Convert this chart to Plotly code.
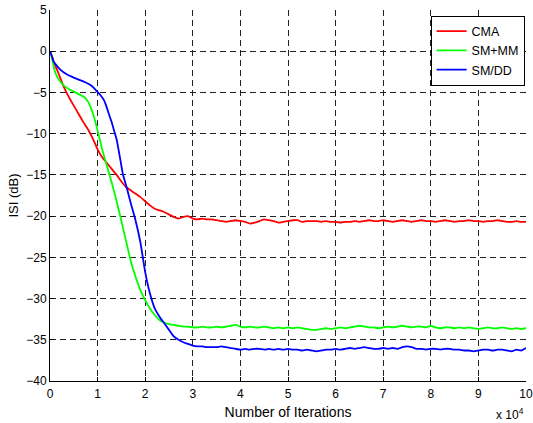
import plotly.graph_objects as go

# x in units of 10^4 iterations
cma_x = [0, 0.04, 0.1, 0.18, 0.28, 0.4, 0.56, 0.7, 0.8, 0.9, 1.0, 1.1, 1.2, 1.3, 1.4, 1.5, 1.6, 1.7,
         1.8, 1.9, 2.0, 2.1, 2.2, 2.3, 2.4, 2.5, 2.6, 2.7, 2.8, 2.9, 3.0]
cma_y = [0, -0.6, -1.6, -2.7, -4.2, -5.6, -7.2, -8.6, -9.5, -10.6, -11.9, -12.9, -13.6, -14.3, -15.0,
         -15.8, -16.5, -16.9, -17.3, -17.7, -18.2, -18.7, -19.1, -19.3, -19.5, -19.8, -20.1, -20.3,
         -20.1, -20.0, -20.3]
cma_tail = [-20.4, -20.3, -20.4, -20.4, -20.5, -20.6, -20.7, -20.6, -20.5, -20.6,
            -20.7, -20.9, -20.8, -20.6, -20.4, -20.5, -20.6, -20.8, -20.7, -20.6,
            -20.5, -20.5, -20.7, -20.6, -20.6, -20.6, -20.7, -20.6, -20.7, -20.7,
            -20.8, -20.7, -20.7, -20.6, -20.7, -20.6, -20.5, -20.6, -20.6, -20.5,
            -20.6, -20.7, -20.6, -20.5, -20.6, -20.7, -20.6, -20.5, -20.6, -20.6,
            -20.7, -20.6, -20.5, -20.6, -20.7, -20.6, -20.6, -20.5, -20.6, -20.6,
            -20.7, -20.6, -20.6, -20.5, -20.6, -20.7, -20.7, -20.6, -20.7, -20.7]

smmm_x = [0, 0.04, 0.1, 0.16, 0.22, 0.3, 0.4, 0.5, 0.6, 0.7, 0.76, 0.81, 0.86, 0.92, 1.0, 1.1, 1.2,
          1.3, 1.4, 1.5, 1.6, 1.7, 1.8, 1.9, 2.0, 2.1, 2.2, 2.3, 2.4, 2.5, 2.6, 2.7, 2.8, 2.9, 3.0]
smmm_y = [0, -0.8, -2.4, -3.2, -3.7, -4.2, -4.6, -4.9, -5.2, -5.5, -5.8, -6.2, -6.9, -7.9, -9.6,
          -12.0, -14.0, -16.0, -18.2, -20.6, -23.1, -25.5, -27.4, -29.0, -30.2, -31.2, -32.0,
          -32.6, -32.9, -33.1, -33.2, -33.3, -33.4, -33.4, -33.5]
smmm_tail = [-33.5, -33.4, -33.5, -33.5, -33.4, -33.5, -33.4, -33.3, -33.2, -33.4,
             -33.5, -33.4, -33.5, -33.5, -33.4, -33.5, -33.6, -33.5, -33.6, -33.5,
             -33.6, -33.5, -33.6, -33.7, -33.8, -33.8, -33.7, -33.6, -33.7, -33.6,
             -33.5, -33.6, -33.5, -33.4, -33.3, -33.4, -33.5, -33.5, -33.6, -33.5,
             -33.4, -33.5, -33.4, -33.3, -33.4, -33.5, -33.4, -33.4, -33.5, -33.3,
             -33.5, -33.6, -33.5, -33.5, -33.6, -33.5, -33.6, -33.5, -33.6, -33.7,
             -33.6, -33.5, -33.6, -33.6, -33.5, -33.6, -33.7, -33.6, -33.7, -33.6]

smdd_x = [0, 0.04, 0.07, 0.12, 0.21, 0.35, 0.5, 0.63, 0.75, 0.85, 0.93, 1.0, 1.07, 1.13, 1.18, 1.23,
          1.29, 1.34, 1.4, 1.47, 1.53, 1.6, 1.7, 1.8, 1.9, 2.0, 2.1, 2.2, 2.3, 2.4, 2.5, 2.6, 2.7,
          2.8, 2.9, 3.0]
smdd_y = [0, -0.6, -1.2, -1.6, -2.2, -2.8, -3.2, -3.5, -3.8, -4.1, -4.5, -4.95, -5.4, -5.9, -6.6,
          -7.5, -8.5, -9.5, -10.7, -12.9, -14.9, -16.3, -18.5, -20.6, -23.2, -26.8, -29.4, -31.2,
          -32.2, -33.0, -33.8, -34.6, -35.0, -35.3, -35.5, -35.7]
smdd_tail = [-35.8, -35.8, -35.9, -35.9, -35.9, -35.8, -35.9, -36.0, -36.1, -36.2,
             -36.1, -36.2, -36.1, -36.1, -36.2, -36.1, -36.2, -36.1, -36.2, -36.1,
             -36.2, -36.2, -36.3, -36.2, -36.3, -36.4, -36.3, -36.2, -36.2, -36.1,
             -36.2, -36.1, -36.0, -36.1, -36.0, -35.9, -36.0, -36.1, -36.1, -36.0,
             -36.1, -36.0, -36.1, -35.9, -35.8, -35.9, -36.1, -36.1, -36.2, -36.1,
             -36.1, -36.2, -36.1, -36.1, -36.2, -36.2, -36.3, -36.3, -36.4, -36.3,
             -36.2, -36.2, -36.3, -36.2, -36.2, -36.3, -36.4, -36.2, -36.3, -36.0]

tail_x = [round(3.1 + 0.1 * i, 2) for i in range(70)]

x_ticks = list(range(0, 11))
y_ticks = list(range(-40, 6, 5))

series = [
    ("CMA", cma_x + tail_x, cma_y + cma_tail, "#ff0000"),
    ("SM+MM", smmm_x + tail_x, smmm_y + smmm_tail, "#00ff00"),
    ("SM/DD", smdd_x + tail_x, smdd_y + smdd_tail, "#0000ff"),
]

fig = go.Figure()
for name, xs, ys, col in series:
    fig.add_trace(go.Scatter(x=xs, y=ys, mode="lines", name=name,
                             line=dict(color=col, width=1.8, shape="spline", smoothing=0.4)))

axis_common = dict(
    showgrid=True, gridcolor="#222222", gridwidth=1, griddash="6px,4px",
    zeroline=False, showline=True, linecolor="black", linewidth=1,
    ticks="inside", ticklen=4, tickcolor="black", automargin=False,
    tickfont=dict(family="Liberation Sans, Arial", size=12, color="black"),
)

fig.update_layout(
    width=533, height=423,
    margin=dict(l=50, r=7, t=10, b=42),
    paper_bgcolor="white", plot_bgcolor="white",
    font=dict(family="Liberation Sans, Arial", color="black"),
    xaxis=dict(range=[0, 10], tickvals=x_ticks, ticklabelstandoff=2,
               title=dict(text="Number of Iterations", font=dict(size=14), standoff=6),
               **axis_common),
    yaxis=dict(range=[-40, 5], tickvals=y_ticks,
               title=dict(text="ISI (dB)", font=dict(size=13), standoff=4),
               **axis_common),
    legend=dict(x=0.997, y=0.985, xanchor="right", yanchor="top",
                bgcolor="white", bordercolor="black", borderwidth=1,
                font=dict(size=12.5), tracegroupgap=0, itemwidth=30),
    showlegend=True,
    annotations=[dict(text="x 10<sup>4</sup>", xref="paper", yref="paper",
                      x=1.0, y=-0.062, xanchor="right", yanchor="top",
                      showarrow=False, font=dict(size=12))],
)

fig.write_html("out.html", config={"displayModeBar": False},
               post_script="document.body.style.margin='0';document.body.style.overflow='hidden';")
